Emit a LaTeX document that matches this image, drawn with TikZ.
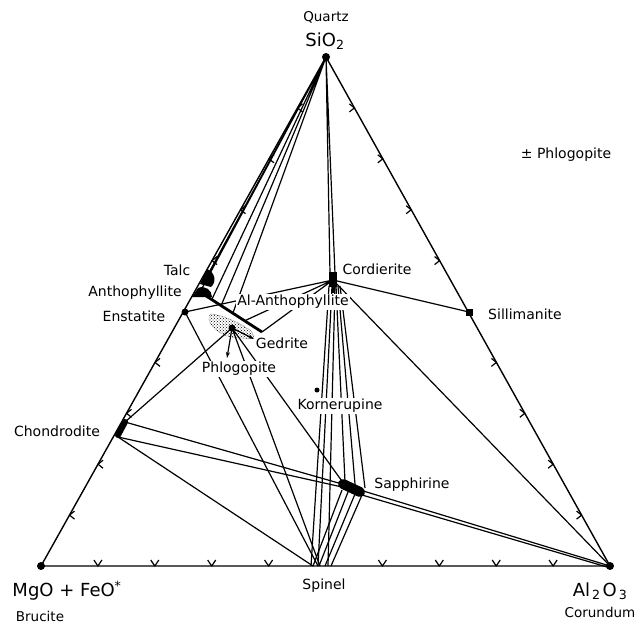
\documentclass[tikz,border=0pt]{standalone}
\usepackage{fontspec}
\setmainfont{DejaVu Sans}
\usetikzlibrary{arrows.meta,calc,patterns}

\begin{document}
\begin{tikzpicture}[x=1pt,y=-1pt,>={Stealth[length=6pt,width=4pt]},line join=round,
 tie/.style={line width=1.2pt},
 side/.style={line width=1.4pt},
 lab/.style={font=\fontsize{14}{16}\selectfont,inner sep=1pt},
 hide/.style={lab,fill=white},
 big/.style={font=\fontsize{18}{20}\selectfont,inner sep=1pt},
 sml/.style={font=\fontsize{13.5}{15}\selectfont,inner sep=1pt},
 dot/.style={circle,fill,inner sep=0pt,minimum size=#1}]
\useasboundingbox (0,0) rectangle (644,626);
\coordinate (si) at (326,57);
\coordinate (mg) at (41,566);
\coordinate (al) at (610,566);
\coordinate (talc) at (206,278);
\coordinate (anth) at (200,292);
\coordinate (en) at (185,312);
\coordinate (aa) at (262,332);
\coordinate (ged) at (232,328);
\coordinate (cord) at (333,280);
\coordinate (sill) at (469,312);
\coordinate (korn) at (317,390);
\coordinate (chu) at (121,430);
\coordinate (sap) at (352,488);
\coordinate (sp) at (322,566);
\coordinate (gdn) at (227,358);
\coordinate (grt) at (254,339);
\foreach \k in {1,2,3,4,6,7,8,9}{
 \draw[tie] ($(mg)!\k/10!(si)$) ++(5,-4) -- ++(-5,4) -- ++(5,4);
 \draw[tie] ($(mg)!\k/10!(al)$) ++(-4,-6) -- ++(4,6) -- ++(4,-6);
 \draw[tie] ($(si)!\k/10!(al)$) ++(-5,-4) -- ++(5,4) -- ++(-5,4);
}
\draw[side] (mg) -- (si) -- (al) -- cycle;
\draw[tie] (si) -- (talc) (si) -- (anth) (si) -- ($(anth)!0.19!(aa)$)
 (si) -- ($(anth)!0.34!(aa)$) (si) -- ($(anth)!0.53!(aa)$);
\draw[tie] (si) -- ($(cord)+(-3,-6)$) (si) -- ($(cord)+(2,-6)$);
\draw[tie] (en) -- (cord) ($(anth)!0.72!(aa)$) -- (cord) (aa) -- (cord);
\draw[tie] (cord) -- (sill) (cord) -- (al);
\draw[tie] ($(cord)+(-4,6)$) -- ($(sp)+(-11,0)$) ($(cord)+(-1,6)$) -- ($(sp)+(-4,0)$)
 ($(cord)+(2,6)$) -- ($(sp)+(6,0)$);
\draw[tie] ($(cord)+(3,6)$) -- ($(sap)+(-7,-6)$) ($(cord)+(5,6)$) -- ($(sap)+(3,-4)$)
 ($(cord)+(7,6)$) -- ($(sap)+(13,0)$);
\draw[tie] ($(sap)+(-10,2)$) -- ($(sp)+(-9,0)$) ($(sap)+(-4,4)$) -- ($(sp)+(-3,0)$)
 ($(sap)+(3,6)$) -- ($(sp)+(3,0)$) ($(sap)+(10,7)$) -- ($(sp)+(9,0)$);
\draw[tie] ($(chu)+(4,-8)$) -- ($(sap)+(-10,-4)$) ($(chu)+(-3,7)$) -- ($(sap)+(-10,-1)$);
\draw[tie] ($(sap)+(8,2)$) -- (al) ($(sap)+(10,7)$) -- ($(al)+(-3,1)$);
\draw[tie] ($(chu)+(-3,7)$) -- ($(sp)+(-9,0)$) ($(chu)+(4,-8)$) -- (ged);
\draw[tie] (en) -- ($(sp)+(-4,0)$) (ged) -- ($(sp)+(-2,0)$) (ged) -- ($(sap)+(-8,-4)$);
\draw[line width=2.8pt] (anth) -- (aa);
\fill[pattern=crosshatch dots] plot[smooth cycle] coordinates {(211,314) (224,317) (238,323) (251,331) (253,338) (241,338) (227,336) (215,329) (209,320)};
\draw[densely dotted] plot[smooth cycle] coordinates {(211,314) (224,317) (238,323) (251,331) (253,338) (241,338) (227,336) (215,329) (209,320)};
\node[sml] (qz) at (326,17) {Quartz};
\node[big] (sio) at (325,41) {SiO\textsubscript{2}};
\node[lab] (phl2) at (566,155) {± Phlogopite};
\node[lab] (tlc) at (177,270) {Talc};
\node[lab] (ath) at (135,293) {Anthophyllite};
\node[lab] (ens) at (134,316) {Enstatite};
\node[hide] (aath) at (293,302) {Al-Anthophyllite};
\node[lab] (crd) at (377,269) {Cordierite};
\node[lab] (sil) at (525,314) {Sillimanite};
\node[hide] (gdr) at (282,343) {Gedrite};
\node[hide] (phl) at (239,369) {Phlogopite};
\node[hide] (krn) at (340,406) {Kornerupine};
\node[lab] (chn) at (57,431) {Chondrodite};
\node[lab] (spr) at (412,485) {Sapphirine};
\node[lab] (spl) at (324,586) {Spinel};
\node[big] (mgo) at (67,591) {MgO + FeO\textsuperscript{*}};
\node[sml] (bru) at (40,616) {Brucite};
\node[big] (alo) at (600,591) {Al\kern2pt\textsubscript{2}\kern2pt O\kern2pt\textsubscript{3}};
\node[sml] (cor) at (600,612) {Corundum};
\fill (200,284) -- (207,269) .. controls (215,272) and (217,282) .. (211,287) -- cycle;
\fill (192,297) -- (198,288) .. controls (205,285) and (212,290) .. (212,297) -- cycle;
\draw[line width=6pt,line cap=round] (118,435) -- (125,422);
\draw[line width=10pt,line cap=round] (343,484) -- (360,492);
\fill (329,272) rectangle (337,287);
\draw[line width=3pt] (333,286) -- (333,293);
\node[dot=8pt] (psi) at (si) {};
\node[dot=8pt] (pmg) at (mg) {};
\node[dot=8pt] (pal) at (al) {};
\node[dot=7pt] (pen) at (en) {};
\node[dot=7pt] (pged) at (ged) {};
\node[dot=5pt] (pkorn) at (korn) {};
\node[fill,inner sep=0pt,minimum size=7pt] (psill) at (sill) {};
\draw[->,tie] (ged) -- (gdn);
\draw[->,tie] (ged) -- (grt);
\end{tikzpicture}
\end{document}
